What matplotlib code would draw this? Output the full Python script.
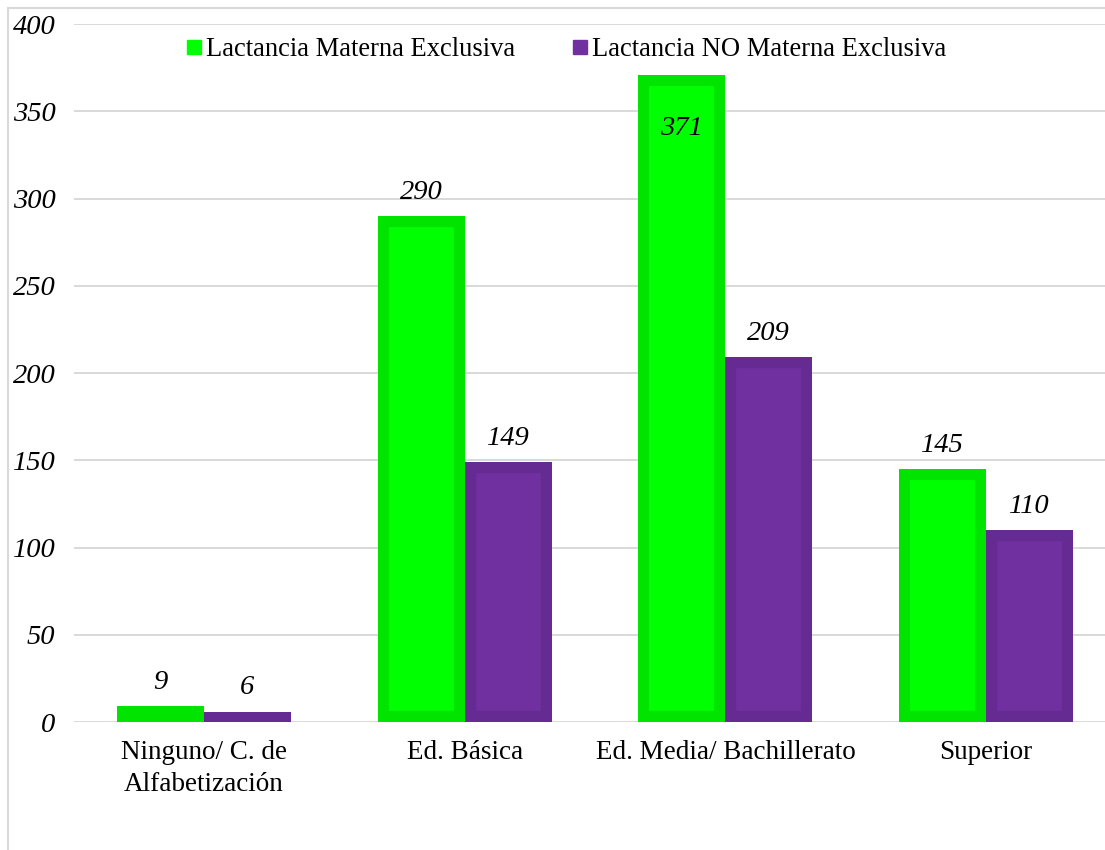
import matplotlib
matplotlib.use("Agg")
import matplotlib.pyplot as plt
from matplotlib.lines import Line2D
from matplotlib.patches import Rectangle
import numpy as np

categories = ["Ninguno/ C. de\nAlfabetización", "Ed. Básica", "Ed. Media/ Bachillerato", "Superior"]
series_names = ["Lactancia Materna Exclusiva", "Lactancia NO Materna Exclusiva"]
lme = [9, 290, 371, 145]
no_lme = [6, 149, 209, 110]
yticks = [0, 50, 100, 150, 200, 250, 300, 350, 400]

fill_colors = ["#00FF00", "#7030A0"]
band_colors = ["#00E400", "#662B93"]

plt.rcParams['font.family'] = ['Liberation Serif', 'DejaVu Serif']

fig = plt.figure(figsize=(11.05, 8.5), dpi=100)
ax = fig.add_axes([73.5/1105, 128/850, 1043/1105, 698/850])

num_fs = 20.5
txt_fs = 19.5

x = np.arange(len(categories))
w = 1/3
for i, (vals, fc, bc) in enumerate(zip([lme, no_lme], fill_colors, band_colors)):
    pos = x - w/2 + i*w
    bars = ax.bar(pos, vals, width=w, color=fc, edgecolor=bc, linewidth=16, zorder=3)
    for b in bars:
        b.set_clip_path(b)
    for p, v in zip(pos, vals):
        if v > 360:
            ax.text(p, v - 31, str(v), ha='center', va='center', fontsize=num_fs, style='italic', zorder=5)
        else:
            ax.text(p, v + 13.5, str(v), ha='center', va='center', fontsize=num_fs, style='italic', zorder=5)

ax.set_xlim(-0.5, 3.5)
ax.set_ylim(0, 400)
ax.set_yticks(yticks)
ax.set_yticklabels([str(t) for t in yticks], fontsize=num_fs, style='italic')
ax.set_xticks(x)
ax.set_xticklabels(categories, fontsize=txt_fs, linespacing=1.35)
ax.tick_params(axis='both', length=0)
ax.tick_params(axis='y', pad=13)
ax.tick_params(axis='x', pad=13)
for s in ax.spines.values():
    s.set_visible(False)
ax.yaxis.grid(True, color="#D9D9D9", linewidth=1.4, zorder=0)
ax.set_axisbelow(True)

handles = [Line2D([], [], marker='s', linestyle='none', markersize=9.5, color=c) for c in fill_colors]
fig.legend(handles, series_names, loc='center', bbox_to_anchor=(0.513, 800/850), ncol=2,
           frameon=False, fontsize=19.1, handletextpad=0.2, columnspacing=2.2, handlelength=0.5)

fig.patches.append(Rectangle((8/1105, -0.1), 1.2, (842/850) + 0.1, transform=fig.transFigure,
                             fill=False, edgecolor="#D9D9D9", linewidth=1.5))

fig.savefig("out.png", dpi=100)
